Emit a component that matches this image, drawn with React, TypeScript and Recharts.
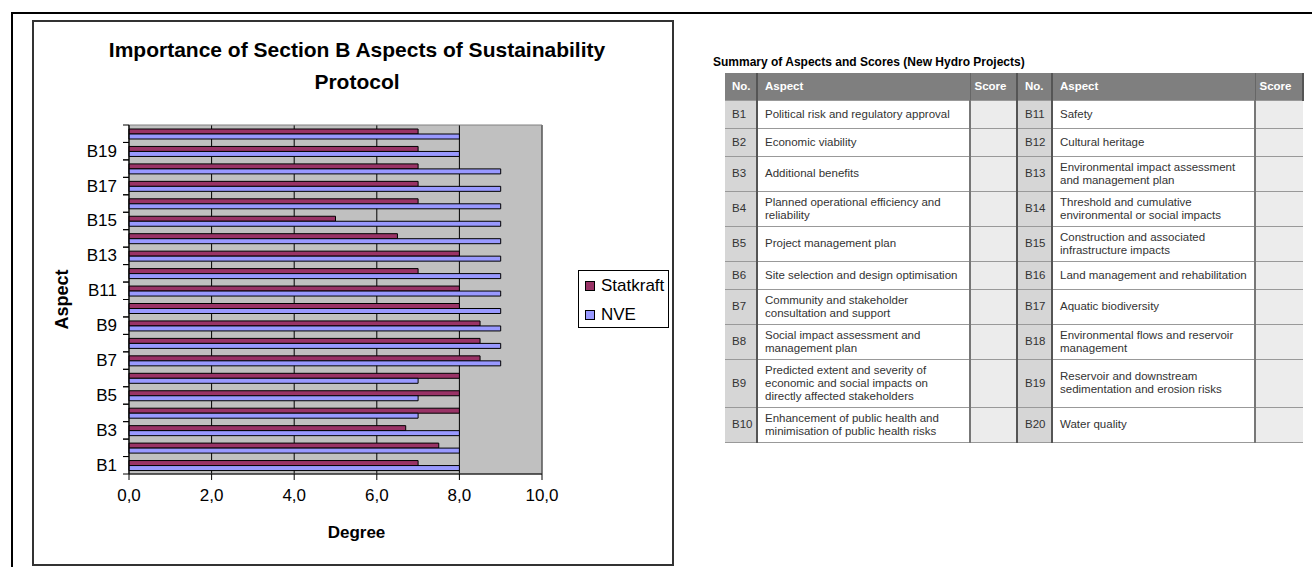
import React from 'react';
import { BarChart, Bar, XAxis, YAxis, CartesianGrid, Legend, ReferenceArea, Label } from 'recharts';

const FONT = '"Liberation Sans", Arial, Helvetica, sans-serif';

// chart data (B1 at the bottom)
const aspects = ['B1', 'B2', 'B3', 'B4', 'B5', 'B6', 'B7', 'B8', 'B9', 'B10', 'B11', 'B12', 'B13', 'B14', 'B15', 'B16', 'B17', 'B18', 'B19', 'B20'];
const statkraft = [7, 7.5, 6.7, 8, 8, 8, 8.5, 8.5, 8.5, 8, 8, 7, 8, 6.5, 5, 7, 7, 7, 7, 7];
const nve = [8, 8, 8, 7, 7, 7, 9, 9, 9, 9, 9, 9, 9, 9, 9, 9, 9, 9, 8, 8];
const degreeTicks = [0, 2, 4, 6, 8, 10];
const seriesNames = ['Statkraft', 'NVE'];

// summary table
const tableHeader = ['No.', 'Aspect', 'Score'];
const leftNos = ['B1', 'B2', 'B3', 'B4', 'B5', 'B6', 'B7', 'B8', 'B9', 'B10'];
const leftAspects = [
  'Political risk and regulatory approval',
  'Economic viability',
  'Additional benefits',
  'Planned operational efficiency and\nreliability',
  'Project management plan',
  'Site selection and design optimisation',
  'Community and stakeholder\nconsultation and support',
  'Social impact assessment and\nmanagement plan',
  'Predicted extent and severity of\neconomic and social impacts on\ndirectly affected stakeholders',
  'Enhancement of public health and\nminimisation of public health risks',
];
const rightNos = ['B11', 'B12', 'B13', 'B14', 'B15', 'B16', 'B17', 'B18', 'B19', 'B20'];
const rightAspects = [
  'Safety',
  'Cultural heritage',
  'Environmental impact assessment\nand management plan',
  'Threshold and cumulative\nenvironmental or social impacts',
  'Construction and associated\ninfrastructure impacts',
  'Land management and rehabilitation',
  'Aquatic biodiversity',
  'Environmental flows and reservoir\nmanagement',
  'Reservoir and downstream\nsedimentation and erosion risks',
  'Water quality',
];

const data = aspects.map((name, i) => ({ name, statkraft: statkraft[i], nve: nve[i] }));

const fmt = (v: number) => v.toFixed(1).replace('.', ',');

function AspectTick(props: any) {
  const { x, y, payload, index, height, visibleTicksCount } = props;
  const half = payload.offset ? payload.offset : height / visibleTicksCount / 2;
  return (
    <g>
      <line x1={x - 6} x2={x} y1={y - half} y2={y - half} stroke="#000" />
      <line x1={x - 6} x2={x} y1={y + half} y2={y + half} stroke="#000" />
      {index % 2 === 0 && (
        <text x={x - 12} y={y} textAnchor="end" dominantBaseline="central" fontSize={17} fill="#000" fontFamily={FONT}>
          {payload.value}
        </text>
      )}
    </g>
  );
}

function LegendBox(props: any) {
  const items = [...(props.payload || [])].sort(
    (a: any, b: any) => seriesNames.indexOf(a.value) - seriesNames.indexOf(b.value)
  );
  return (
    <div style={{ width: 89, height: 56, border: '1px solid #000', background: '#fff', fontFamily: FONT, fontSize: 17, color: '#000' }}>
      {items.map((it: any) => (
        <div key={it.value} style={{ height: 29, display: 'flex', alignItems: 'center', paddingLeft: 6 }}>
          <span style={{ width: 8, height: 8, border: '1px solid #000', background: it.color, marginRight: 6 }} />
          <span>{it.value}</span>
        </div>
      ))}
    </div>
  );
}

function SummaryTable() {
  const cell: React.CSSProperties = { padding: '4px 7px', verticalAlign: 'middle', borderBottom: '1px solid #999', whiteSpace: 'pre-line' };
  const head: React.CSSProperties = { ...cell, background: '#7f7f7f', color: '#fff', fontWeight: 'bold' };
  return (
    <div style={{ position: 'absolute', left: 713, top: 55, fontFamily: FONT, color: '#333' }}>
      <div style={{ fontWeight: 'bold', fontSize: 12, color: '#000', height: 18 }}>Summary of Aspects and Scores (New Hydro Projects)</div>
      <table style={{ marginLeft: 12, borderCollapse: 'collapse', fontSize: 11.5, lineHeight: '13px', tableLayout: 'fixed', width: 578 }}>
        <colgroup>
          <col style={{ width: 32 }} />
          <col style={{ width: 213 }} />
          <col style={{ width: 47 }} />
          <col style={{ width: 35 }} />
          <col style={{ width: 203 }} />
          <col style={{ width: 48 }} />
        </colgroup>
        <tbody>
          <tr style={{ height: 27 }}>
            {[...tableHeader, ...tableHeader].map((h, i) => (
              <td key={i} style={{ ...head, paddingLeft: i % 3 === 2 ? 4 : 7, borderRight: i % 3 === 1 ? '1px solid #666' : '2px solid #555' }}>{h}</td>
            ))}
          </tr>
          {leftNos.map((no, i) => (
            <tr key={no} style={{ height: 28 }}>
              <td style={{ ...cell, background: '#d6d6d6', borderRight: '2px solid #555' }}>{no}</td>
              <td style={{ ...cell, background: '#fff', borderRight: '2px solid #777' }}>{leftAspects[i]}</td>
              <td style={{ ...cell, background: '#ececec', borderRight: '2px solid #555' }} />
              <td style={{ ...cell, background: '#d6d6d6', borderRight: '2px solid #555' }}>{rightNos[i]}</td>
              <td style={{ ...cell, background: '#fff', borderRight: '2px solid #777' }}>{rightAspects[i]}</td>
              <td style={{ ...cell, background: '#ececec' }} />
            </tr>
          ))}
        </tbody>
      </table>
    </div>
  );
}

export default function App() {
  return (
    <div style={{ position: 'absolute', left: 0, top: 0, width: 1312, height: 567, background: '#fff', overflow: 'hidden', fontFamily: FONT }}>
      <div style={{ position: 'absolute', left: 11, top: 12, width: 1320, height: 580, borderLeft: '2px solid #000', borderTop: '2px solid #000' }} />
      <div style={{ position: 'absolute', left: 32, top: 20, width: 642, height: 546, border: '2px solid #333', boxSizing: 'border-box' }} />
      <div
        style={{
          position: 'absolute',
          left: 32,
          top: 34,
          width: 650,
          textAlign: 'center',
          fontWeight: 'bold',
          fontSize: 21,
          lineHeight: '32px',
          color: '#000',
        }}
      >
        Importance of Section B Aspects of Sustainability
        <br />
        Protocol
      </div>
      <div style={{ position: 'absolute', left: 32, top: 20 }}>
        <BarChart
          width={642}
          height={546}
          data={data}
          layout="vertical"
          margin={{ top: 105, right: 132, bottom: 0, left: 0 }}
          barSize={5}
          barGap={0}
        >
          <CartesianGrid horizontal={false} stroke="#000" fill="#c0c0c0" fillOpacity={1} />
          <ReferenceArea x1={0} x2={10} fill="none" stroke="#808080" />
          <XAxis
            type="number"
            domain={[0, 10]}
            ticks={degreeTicks}
            tickFormatter={fmt}
            height={92}
            tickSize={6}
            tickMargin={9}
            axisLine={{ stroke: '#000' }}
            tickLine={{ stroke: '#000' }}
            tick={{ fill: '#000', fontSize: 17, fontFamily: FONT }}
          >
            <Label
              content={(p: any) => (
                <text
                  x={p.viewBox.x + p.viewBox.width / 2 + 21}
                  y={p.viewBox.y + 58}
                  textAnchor="middle"
                  dominantBaseline="central"
                  fontWeight="bold"
                  fontSize={17}
                  fontFamily={FONT}
                  fill="#000"
                >
                  Degree
                </text>
              )}
            />
          </XAxis>
          <YAxis
            type="category"
            dataKey="name"
            reversed
            width={97}
            interval={0}
            tickSize={0}
            tickMargin={0}
            tickLine={false}
            axisLine={{ stroke: '#000' }}
            tick={(p: any) => <AspectTick {...p} />}
          >
            <Label
              content={(p: any) => {
                const cx = p.viewBox.x + 30;
                const cy = p.viewBox.y + p.viewBox.height / 2;
                return (
                  <text
                    x={cx}
                    y={cy}
                    transform={`rotate(-90, ${cx}, ${cy})`}
                    textAnchor="middle"
                    dominantBaseline="central"
                    fontWeight="bold"
                    fontSize={18}
                    fontFamily={FONT}
                    fill="#000"
                  >
                    Aspect
                  </text>
                );
              }}
            />
          </YAxis>
          <Legend
            layout="horizontal"
            align="center"
            verticalAlign="middle"
            content={(p: any) => <LegendBox {...p} />}
            wrapperStyle={{ left: 546, top: 250, width: 91, height: 58 }}
          />
          <Bar dataKey="statkraft" name="Statkraft" fill="#993366" stroke="#000" strokeWidth={1} isAnimationActive={false} />
          <Bar dataKey="nve" name="NVE" fill="#9999ff" stroke="#000" strokeWidth={1} isAnimationActive={false} />
        </BarChart>
      </div>
      <SummaryTable />
    </div>
  );
}
